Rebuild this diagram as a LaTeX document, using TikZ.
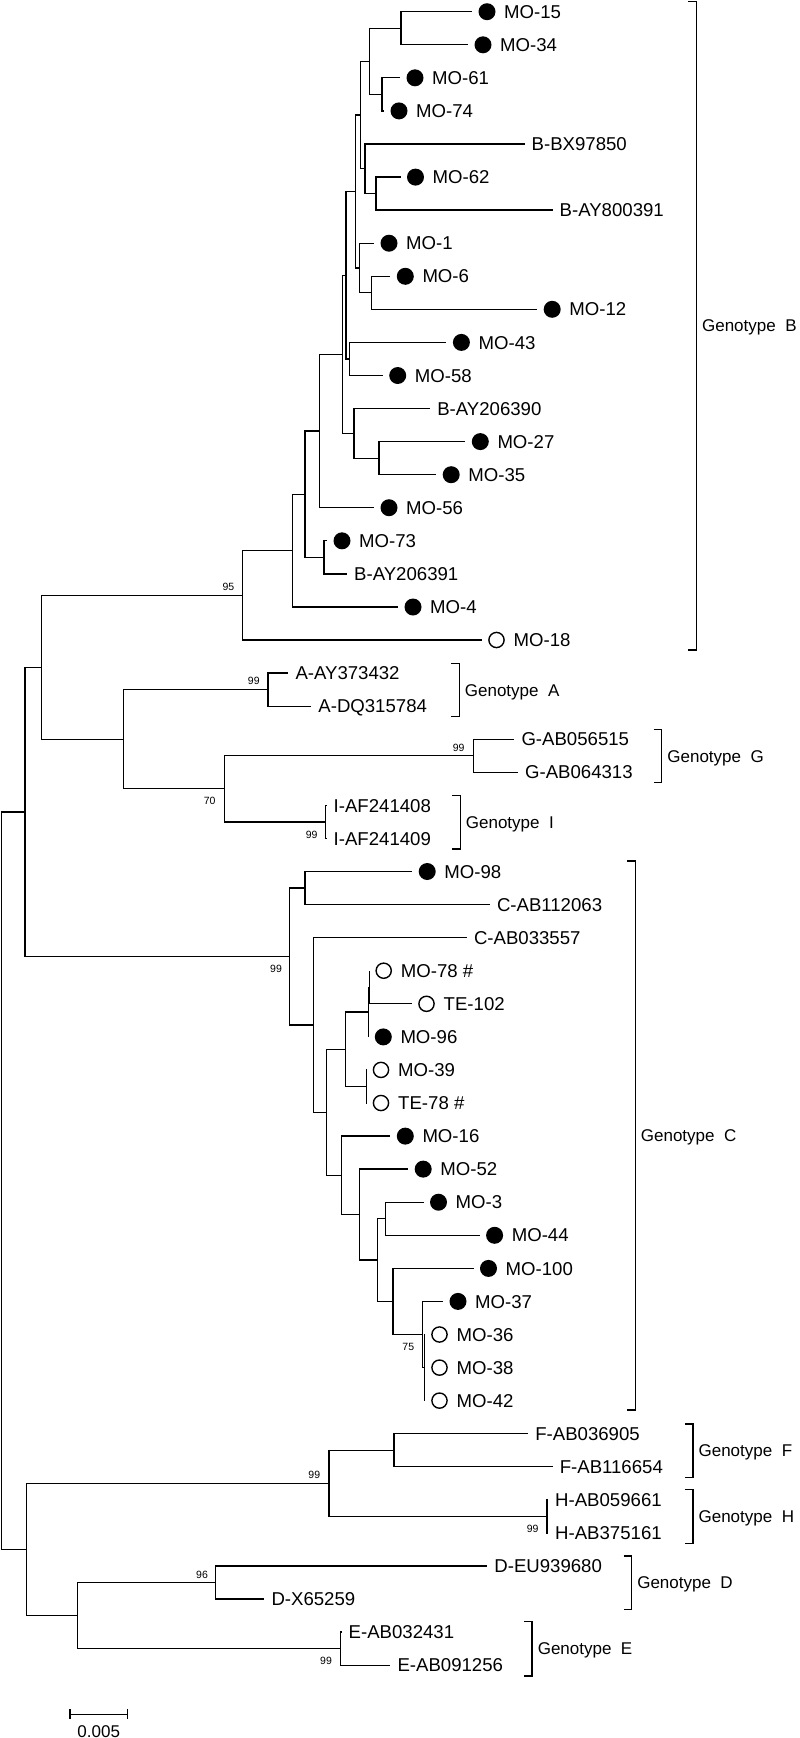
\documentclass[tikz,border=0pt]{standalone}
\usepackage{fontspec}
\setmainfont{Liberation Sans}
\tikzset{
  br/.style={line width=1.25pt},
  fdot/.style={circle,fill=black,inner sep=0pt,minimum size=17pt},
  odot/.style={circle,draw=black,line width=1.4pt,fill=white,inner sep=0pt,minimum size=15.2pt},
  lbl/.style={anchor=base west,inner sep=0pt,font=\fontsize{18.6}{20}\selectfont},
  glbl/.style={anchor=base west,inner sep=0pt,font=\fontsize{17}{19}\selectfont},
  bsl/.style={inner sep=0pt,font=\fontsize{10.5}{12}\selectfont},
}
% filled-dot leaf: name, parent, tip x, y, text
\newcommand\LeafF[5]{%
  \coordinate (#1) at (#3,#4);
  \draw[br] (#2) |- (#1);
  \node[fdot] (#1m) at ([xshift=15pt]#1) {};
  \node[lbl] (#1t) at ([xshift=32pt,yshift=-6.6pt]#1) {#5};}
% open-dot leaf
\newcommand\LeafO[5]{%
  \coordinate (#1) at (#3,#4);
  \draw[br] (#2) |- (#1);
  \node[odot] (#1m) at ([xshift=14.5pt]#1) {};
  \node[lbl] (#1t) at ([xshift=31.5pt,yshift=-6.6pt]#1) {#5};}
% plain leaf
\newcommand\LeafP[5]{%
  \coordinate (#1) at (#3,#4);
  \draw[br] (#2) |- (#1);
  \node[lbl] (#1t) at ([xshift=7pt,yshift=-6.6pt]#1) {#5};}
% bracket: name, x, top, bottom, label
\newcommand\Brk[5]{%
  \coordinate (#1a) at (#2-8,#3);
  \coordinate (#1b) at (#2,#3);
  \coordinate (#1c) at (#2,#4);
  \coordinate (#1d) at (#2-8,#4);
  \draw[br] (#1a) -- (#1b) -- (#1c) -- (#1d);
  \node[glbl] (#1t) at (#2+5.5,{(#3+#4)/2+6.1}) {#5};}
\begin{document}
\begin{tikzpicture}[x=1pt,y=-1pt]
\useasboundingbox (0,0) rectangle (800,1738);
% internal nodes
\coordinate (root) at (1.7,1180.7);
\coordinate (nU) at (25,811.9);
\coordinate (nL) at (26.5,1549.45);
\coordinate (nBAGI) at (41.7,667.25);
\coordinate (nB8) at (242.3,595.3);
\coordinate (nB7) at (292.3,550.6);
\coordinate (nB6) at (305,494.2);
\coordinate (nB5) at (319.3,431);
\coordinate (nB4) at (342.3,354.3);
\coordinate (nB3) at (346,275.2);
\coordinate (nB2) at (355.7,191.5);
\coordinate (nB1) at (360.3,115.05);
\coordinate (nA4) at (369.3,61.3);
\coordinate (n1534) at (401,28.25);
\coordinate (n6174) at (382,94.35);
\coordinate (nBX) at (365,168.8);
\coordinate (n62) at (376,193.6);
\coordinate (n1) at (359.3,268);
\coordinate (n612) at (371.7,292.8);
\coordinate (n4358) at (349.3,358.95);
\coordinate (n390) at (354,433.3);
\coordinate (n2735) at (379,458.15);
\coordinate (n73) at (324,557.35);
\coordinate (nAGI) at (123.5,739.2);
\coordinate (nAA) at (267.9,689.65);
\coordinate (nGI) at (224.5,788.8);
\coordinate (nG) at (473.5,755.75);
\coordinate (nI) at (325.5,821.9);
\coordinate (nC) at (289.8,956.5);
\coordinate (n98) at (305.1,888.05);
\coordinate (n314) at (313.8,1025);
\coordinate (n326) at (326.5,1112.3);
\coordinate (n345) at (345.4,1049.3);
\coordinate (n78) at (368.3,1012.1);
\coordinate (n78in) at (369.2,987.25);
\coordinate (n39) at (366.3,1086.45);
\coordinate (n16) at (341.8,1175.35);
\coordinate (n52) at (359.7,1214.6);
\coordinate (n740) at (377.6,1260.1);
\coordinate (n344) at (385.2,1218.75);
\coordinate (n100) at (392.9,1301.45);
\coordinate (n37) at (422.7,1334.5);
\coordinate (n37in) at (424.2,1367.55);
\coordinate (nFH) at (329.1,1483.3);
\coordinate (nF) at (393.9,1450.25);
\coordinate (nH) at (546.9,1516.35);
\coordinate (nDE) at (77.6,1615.6);
\coordinate (nD) at (215.8,1582.5);
\coordinate (nE) at (340.3,1648.65);
% internal edges
\foreach \p/\c in {root/nU,root/nL,nU/nBAGI,nU/nC,nBAGI/nB8,nBAGI/nAGI,
  nB8/nB7,nB7/nB6,nB6/nB5,nB6/n73,nB5/nB4,nB4/nB3,nB4/n390,nB3/nB2,nB3/n4358,
  nB2/nB1,nB2/n1,nB1/nA4,nB1/nBX,nA4/n1534,nA4/n6174,nBX/n62,n1/n612,n390/n2735,
  nAGI/nAA,nAGI/nGI,nGI/nG,nGI/nI,
  nC/n98,nC/n314,n314/n326,n326/n345,n326/n16,n345/n78,n345/n39,n78/n78in,
  n16/n52,n52/n740,n740/n344,n740/n100,n100/n37,n37/n37in,
  nL/nFH,nL/nDE,nFH/nF,nFH/nH,nDE/nD,nDE/nE}
  {\draw[br] (\p) |- (\c);}
% leaves
\LeafF{l0}{n1534}{472}{11.7}{MO-15}
\LeafF{l1}{n1534}{468}{44.8}{MO-34}
\LeafF{l2}{n6174}{400}{77.8}{MO-61}
\LeafF{l3}{n6174}{384}{110.9}{MO-74}
\LeafP{l4}{nBX}{524.5}{144.0}{B-BX97850}
\LeafF{l5}{n62}{400.5}{177.1}{MO-62}
\LeafP{l6}{n62}{552.5}{210.1}{B-AY800391}
\LeafF{l7}{n1}{374}{243.2}{MO-1}
\LeafF{l8}{n612}{390.3}{276.3}{MO-6}
\LeafF{l9}{n612}{537.2}{309.3}{MO-12}
\LeafF{l10}{n4358}{446.4}{342.4}{MO-43}
\LeafF{l11}{n4358}{382.7}{375.5}{MO-58}
\LeafP{l12}{n390}{430.1}{408.5}{B-AY206390}
\LeafF{l13}{n2735}{465.3}{441.6}{MO-27}
\LeafF{l14}{n2735}{436.2}{474.7}{MO-35}
\LeafF{l15}{nB5}{374}{507.7}{MO-56}
\LeafF{l16}{n73}{327}{540.8}{MO-73}
\LeafP{l17}{n73}{347}{573.9}{B-AY206391}
\LeafF{l18}{nB7}{398}{607.0}{MO-4}
\LeafO{l19}{nB8}{482}{640.0}{MO-18}
\LeafP{l20}{nAA}{288.3}{673.1}{A-AY373432}
\LeafP{l21}{nAA}{311.2}{706.2}{A-DQ315784}
\LeafP{l22}{nG}{514.3}{739.2}{G-AB056515}
\LeafP{l23}{nG}{517.9}{772.3}{G-AB064313}
\LeafP{l24}{nI}{326.5}{805.4}{I-AF241408}
\LeafP{l25}{nI}{326.5}{838.4}{I-AF241409}
\LeafF{l26}{n98}{412.2}{871.5}{MO-98}
\LeafP{l27}{n98}{489.8}{904.6}{C-AB112063}
\LeafP{l28}{n314}{466.8}{937.7}{C-AB033557}
\LeafO{l29}{n78in}{369.2}{970.7}{MO-78 \#}
\LeafO{l30}{n78in}{412}{1003.8}{TE-102}
\LeafF{l31}{n78}{368.3}{1036.9}{MO-96}
\LeafO{l32}{n39}{366.5}{1069.9}{MO-39}
\LeafO{l33}{n39}{366.5}{1103.0}{TE-78 \#}
\LeafF{l34}{n16}{390.3}{1136.1}{MO-16}
\LeafF{l35}{n52}{408.2}{1169.1}{MO-52}
\LeafF{l36}{n344}{423.5}{1202.2}{MO-3}
\LeafF{l37}{n344}{479.6}{1235.3}{MO-44}
\LeafF{l38}{n100}{473.5}{1268.4}{MO-100}
\LeafF{l39}{n37}{443}{1301.4}{MO-37}
\LeafO{l40}{n37in}{425}{1334.5}{MO-36}
\LeafO{l41}{n37in}{425}{1367.6}{MO-38}
\LeafO{l42}{n37in}{425}{1400.6}{MO-42}
\LeafP{l43}{nF}{528.1}{1433.7}{F-AB036905}
\LeafP{l44}{nF}{552.6}{1466.8}{F-AB116654}
\LeafP{l45}{nH}{548}{1499.8}{H-AB059661}
\LeafP{l46}{nH}{548}{1532.9}{H-AB375161}
\LeafP{l47}{nD}{487.2}{1566.0}{D-EU939680}
\LeafP{l48}{nD}{264.3}{1599.0}{D-X65259}
\LeafP{l49}{nE}{341.5}{1632.1}{E-AB032431}
\LeafP{l50}{nE}{390.3}{1665.2}{E-AB091256}
% bootstrap values
\node[bsl] (b95) at (228.4,587) {95};
\node[bsl] (b99a) at (253.8,681) {99};
\node[bsl] (b99g) at (458.7,748) {99};
\node[bsl] (b70) at (209.7,801) {70};
\node[bsl] (b99i) at (311.7,834.5) {99};
\node[bsl] (b99c) at (276,969) {99};
\node[bsl] (b75) at (408.3,1346.7) {75};
\node[bsl] (b99fh) at (314.3,1475.3) {99};
\node[bsl] (b99h) at (532.6,1528.8) {99};
\node[bsl] (b96) at (202,1574.5) {96};
\node[bsl] (b99e) at (326,1661) {99};
% genotype brackets
\Brk{gB}{696.4}{1.7}{650}{Genotype\ \ B}
\Brk{gA}{459.2}{663.3}{716.7}{Genotype\ \ A}
\Brk{gG}{661.7}{729.3}{782.7}{Genotype\ \ G}
\Brk{gI}{460.2}{795.7}{849}{Genotype\ \ I}
\Brk{gC}{635.2}{861}{1410}{Genotype\ \ C}
\Brk{gF}{692.9}{1424}{1477.3}{Genotype\ \ F}
\Brk{gH}{692.9}{1489.3}{1543.3}{Genotype\ \ H}
\Brk{gD}{631.6}{1556}{1609.3}{Genotype\ \ D}
\Brk{gE}{532.1}{1621.7}{1676}{Genotype\ \ E}
% scale bar
\coordinate (sbL) at (69.9,1714.3);
\coordinate (sbR) at (127.6,1714.3);
\draw[br] (sbL) -- (sbR);
\draw[br] ([yshift=5pt]sbL) -- ([yshift=-5pt]sbL);
\draw[br] ([yshift=5pt]sbR) -- ([yshift=-5pt]sbR);
\node[inner sep=0pt,font=\fontsize{17}{19}\selectfont] (sbt) at (98.7,1731.2) {0.005};
\end{tikzpicture}
\end{document}
